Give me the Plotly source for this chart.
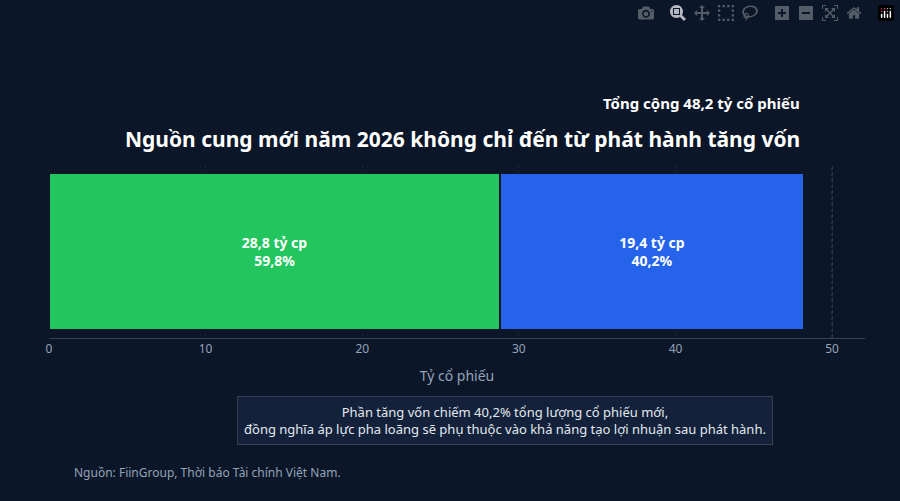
import plotly.graph_objects as go

category = ["Nguồn cung"]
series_names = ["Phát hành khác", "Tăng vốn"]
values = [28.8, 19.4]
shares = [59.8, 40.2]
colors = ["#22c55e", "#2563eb"]
tick_vals = [0, 10, 20, 30, 40, 50]

fig = go.Figure()
for n, v, s, c in zip(series_names, values, shares, colors):
    fig.add_trace(go.Bar(
        y=category, x=[v], name=n, orientation="h", marker=dict(color=c, line=dict(color="#0b1628", width=1.5)),
        text=[f"<b>{str(v).replace('.', ',')} tỷ cp<br>{str(s).replace('.', ',')}%</b>"],
        textposition="inside", insidetextanchor="middle",
        textfont=dict(color="white", size=14, family="Noto Sans"),
        hoverinfo="skip",
    ))

PW = 900 - 49 - 35
fig.update_layout(
    barmode="stack", bargap=0.1,
    width=900, height=501,
    paper_bgcolor="#0b1628", plot_bgcolor="#0b1628",
    margin=dict(l=49, r=35, t=165, b=163),
    showlegend=False,
    font=dict(family="Noto Sans", color="#94a3b8"),
    xaxis=dict(range=[0, 52.1], tickvals=tick_vals, showgrid=True, gridcolor="rgba(148,163,184,0.12)",
               griddash="dot", zeroline=False, showline=True, linecolor="#334155", linewidth=1,
               tickfont=dict(size=12, color="#94a3b8"), ticks="",
               title=dict(text="Tỷ cổ phiếu", font=dict(size=14, color="#94a3b8"), standoff=14)),
    yaxis=dict(showticklabels=False, showgrid=False, zeroline=False),
    shapes=[dict(type="line", xref="x", yref="paper", x0=50, x1=50, y0=0, y1=1,
                 line=dict(color="rgba(148,163,184,0.35)", width=1, dash="dot"))],
    annotations=[
        dict(text="<b>Nguồn cung mới năm 2026 không chỉ đến từ phát hành tăng vốn</b>", xref="paper", yref="paper",
             x=(802 - 49) / PW, y=1, yshift=10, xanchor="right", yanchor="bottom", showarrow=False,
             font=dict(size=21, color="white")),
        dict(text="<b>Tổng cộng 48,2 tỷ cổ phiếu</b>", xref="paper", yref="paper",
             x=(802 - 49) / PW, y=1, yshift=50, xanchor="right", yanchor="bottom", showarrow=False,
             font=dict(size=15, color="white")),
        dict(text="Phần tăng vốn chiếm 40,2% tổng lượng cổ phiếu mới,<br>đồng nghĩa áp lực pha loãng sẽ phụ thuộc vào khả năng tạo lợi nhuận sau phát hành.",
             xref="paper", yref="paper", x=(505 - 49) / PW, y=-0.475, xanchor="center", yanchor="middle", showarrow=False,
             font=dict(size=13, color="#e2e8f0"), bgcolor="#13223a", bordercolor="#334155", borderwidth=1,
             borderpad=6, align="center"),
        dict(text="Nguồn: FiinGroup, Thời báo Tài chính Việt Nam.", xref="paper", yref="paper",
             x=(72 - 49) / PW, y=-0.78, xanchor="left", yanchor="middle", showarrow=False,
             font=dict(size=12, color="#94a3b8")),
    ],
)
fig.write_html("out.html", post_script="document.body.style.margin='0';document.body.style.background='#0b1628';")
